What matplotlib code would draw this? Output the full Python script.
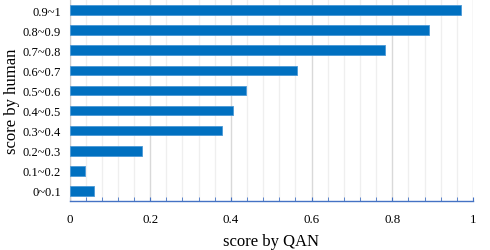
import numpy as np
from matplotlib import pyplot as plt
from matplotlib.ticker import MultipleLocator, FuncFormatter

categories = ['0~0.1', '0.1~0.2', '0.2~0.3', '0.3~0.4', '0.4~0.5',
              '0.5~0.6', '0.6~0.7', '0.7~0.8', '0.8~0.9', '0.9~1']
values = [0.060, 0.039, 0.180, 0.378, 0.404, 0.438, 0.565, 0.783, 0.890, 0.970]


def main():
    plt.rcParams['font.family'] = ['Liberation Serif', 'DejaVu Serif']
    fig = plt.figure(figsize=(4.9, 2.51), dpi=100)
    ax = fig.add_axes([69.5 / 490, 1 - 202 / 251, (473 - 69.5) / 490, 201 / 251])

    y = np.arange(len(categories))
    ax.barh(y, values, height=0.48, color='#0070C0', edgecolor='#4a98d6',
            linewidth=0.6, zorder=3)

    ax.set_xlim(0, 1)
    ax.set_ylim(-0.5, len(categories) - 0.5)
    ax.set_yticks(y)
    ax.set_yticklabels(categories)
    ax.xaxis.set_major_locator(MultipleLocator(0.2))
    ax.xaxis.set_minor_locator(MultipleLocator(0.04))
    ax.xaxis.set_major_formatter(FuncFormatter(lambda v, p: f'{v:g}'))

    ax.grid(axis='x', which='major', color='#d9d9d9', linewidth=1.0, zorder=0)
    ax.grid(axis='x', which='minor', color='#efefef', linewidth=0.9, zorder=0)

    for s in ['top', 'right']:
        ax.spines[s].set_visible(False)
    ax.spines['left'].set_color('#d0d0d0')
    ax.spines['bottom'].set_color('#4472C4')
    ax.spines['bottom'].set_linewidth(1.0)

    ax.tick_params(axis='y', length=0, labelsize=9, pad=6)
    ax.tick_params(axis='x', which='both', direction='in', color='#4472C4',
                   labelsize=9.3, pad=9)
    ax.tick_params(axis='x', which='major', length=3)
    ax.tick_params(axis='x', which='minor', length=3)

    ax.set_xlabel('score by QAN', fontsize=12, labelpad=5.5)
    ax.set_ylabel('score by human', fontsize=12, labelpad=2)

    plt.savefig('out.png', dpi=100)


if __name__ == '__main__':
    main()
